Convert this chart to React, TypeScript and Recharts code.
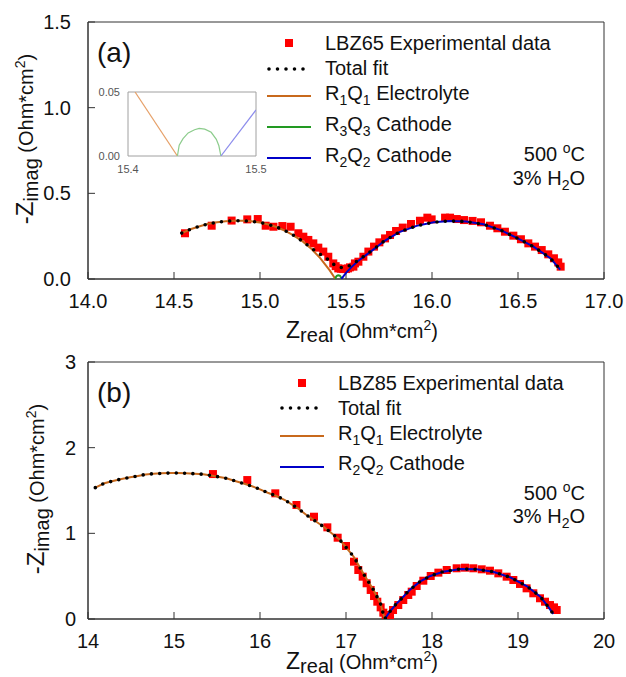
import React from "react";
import { ScatterChart, Scatter, XAxis, YAxis, ReferenceArea } from "recharts";

type Pt = [number, number];
type Part = string | { sub: string } | { sup: string };

const FONT = '"Liberation Sans", Arial, Helvetica, sans-serif';
const RED = "#ff0000";
const ORANGE = "#c8691c";
const GREEN = "#229922";
const BLUE = "#0000c8";
const AXIS = "#333";

// ---------- panel (a): LBZ65 ----------
const lbz65Exp: Pt[] = [
  [14.564, 0.267], [14.719, 0.311], [14.835, 0.341], [14.926, 0.348], [14.987, 0.35],
  [15.033, 0.311], [15.078, 0.305], [15.13, 0.309], [15.178, 0.305], [15.223, 0.267],
  [15.252, 0.247], [15.281, 0.228], [15.31, 0.208], [15.339, 0.183], [15.368, 0.16],
  [15.397, 0.13], [15.426, 0.091], [15.44, 0.075], [15.455, 0.062], [15.47, 0.06],
  [15.484, 0.058], [15.5, 0.058], [15.512, 0.062], [15.523, 0.068], [15.543, 0.072],
  [15.552, 0.091], [15.572, 0.101], [15.601, 0.13], [15.63, 0.16], [15.663, 0.189],
  [15.694, 0.214], [15.727, 0.237], [15.756, 0.257], [15.791, 0.28], [15.83, 0.3],
  [15.878, 0.321], [15.93, 0.34], [15.973, 0.358], [15.998, 0.348], [16.076, 0.358],
  [16.105, 0.358], [16.144, 0.35], [16.186, 0.344], [16.236, 0.339], [16.285, 0.331],
  [16.337, 0.311], [16.38, 0.296], [16.424, 0.276], [16.473, 0.253], [16.517, 0.232],
  [16.56, 0.208], [16.599, 0.189], [16.638, 0.169], [16.676, 0.144], [16.709, 0.121],
  [16.734, 0.097], [16.748, 0.072],
];

const lbz65Fit: Pt[] = [
  [14.545, 0.268], [14.6, 0.292], [14.65, 0.308], [14.7, 0.322], [14.75, 0.331],
  [14.8, 0.337], [14.85, 0.34], [14.9, 0.34], [14.95, 0.337], [15.0, 0.33],
  [15.05, 0.318], [15.1, 0.302], [15.15, 0.28], [15.2, 0.252], [15.25, 0.218],
  [15.3, 0.179], [15.34, 0.15], [15.39, 0.118], [15.42, 0.092], [15.44, 0.077],
  [15.46, 0.068], [15.48, 0.066], [15.5, 0.069], [15.53, 0.082], [15.57, 0.108],
  [15.62, 0.144], [15.67, 0.181], [15.72, 0.22], [15.81, 0.274], [15.91, 0.31],
  [16.01, 0.331], [16.1, 0.339], [16.2, 0.335], [16.3, 0.319], [16.4, 0.285],
  [16.49, 0.241], [16.59, 0.189], [16.69, 0.12], [16.745, 0.055],
];

const lbz65R1Q1: Pt[] = [
  [14.545, 0.268], [14.6, 0.292], [14.65, 0.308], [14.7, 0.322], [14.75, 0.331],
  [14.8, 0.337], [14.85, 0.34], [14.9, 0.34], [14.95, 0.337], [15.0, 0.33],
  [15.05, 0.318], [15.1, 0.302], [15.15, 0.28], [15.2, 0.252], [15.25, 0.218],
  [15.3, 0.175], [15.35, 0.122], [15.4055, 0.05], [15.4386, 0.0],
];

const lbz65R3Q3: Pt[] = [
  [15.4386, 0], [15.44, 0.0085], [15.443, 0.0135], [15.447, 0.018], [15.452, 0.0205],
  [15.4556, 0.0216], [15.46, 0.021], [15.465, 0.0185], [15.469, 0.013], [15.471, 0.008],
  [15.4726, 0],
];

const lbz65R2Q2: Pt[] = [
  [15.4726, 0.0], [15.5, 0.036], [15.53, 0.068], [15.57, 0.105], [15.62, 0.142],
  [15.67, 0.18], [15.72, 0.22], [15.81, 0.274], [15.91, 0.31], [16.01, 0.331],
  [16.1, 0.339], [16.2, 0.335], [16.3, 0.319], [16.4, 0.285], [16.49, 0.241],
  [16.59, 0.189], [16.69, 0.12], [16.745, 0.055],
];

// inset: close-up of the valley, 15.4 - 15.5
const insetR1Q1: Pt[] = [[15.4055, 0.05], [15.4386, 0]];
const insetR2Q2: Pt[] = [[15.4726, 0], [15.5, 0.036]];

// ---------- panel (b): LBZ85 ----------
const lbz85Exp: Pt[] = [
  [15.453, 1.692], [15.852, 1.622], [16.178, 1.467], [16.424, 1.331], [16.628, 1.194],
  [16.783, 1.07], [16.903, 0.949], [17.0, 0.852], [17.093, 0.669], [17.143, 0.572],
  [17.194, 0.494], [17.24, 0.417], [17.287, 0.339], [17.326, 0.268], [17.364, 0.202],
  [17.403, 0.136], [17.434, 0.074], [17.461, 0.027], [17.512, 0.047], [17.547, 0.105],
  [17.608, 0.163], [17.666, 0.222], [17.724, 0.28], [17.764, 0.319], [17.822, 0.385],
  [17.899, 0.447], [17.985, 0.502], [18.074, 0.541], [18.171, 0.572], [18.287, 0.592],
  [18.384, 0.599], [18.48, 0.592], [18.578, 0.58], [18.674, 0.564], [18.771, 0.533],
  [18.868, 0.494], [18.946, 0.455], [19.023, 0.409], [19.1, 0.358], [19.178, 0.3],
  [19.256, 0.242], [19.314, 0.202], [19.372, 0.163], [19.419, 0.136], [19.45, 0.105],
];

const lbz85R1Q1: Pt[] = [
  [14.085, 1.533], [14.19, 1.584], [14.29, 1.611], [14.39, 1.634], [14.49, 1.654],
  [14.58, 1.67], [14.67, 1.688], [14.76, 1.696], [14.85, 1.7], [14.95, 1.704],
  [15.04, 1.704], [15.14, 1.7], [15.24, 1.696], [15.34, 1.689], [15.43, 1.676],
  [15.51, 1.661], [15.61, 1.642], [15.7, 1.614], [15.8, 1.584], [15.9, 1.552],
  [16.0, 1.514], [16.09, 1.474], [16.19, 1.436], [16.29, 1.389], [16.44, 1.292],
  [16.54, 1.214], [16.74, 1.077], [16.93, 0.922], [17.09, 0.727], [17.2, 0.533],
  [17.32, 0.339], [17.4, 0.183], [17.45, 0.0],
];

const lbz85R2Q2: Pt[] = [
  [17.45, 0.0], [17.51, 0.086], [17.57, 0.16], [17.63, 0.222], [17.74, 0.339],
  [17.86, 0.436], [17.98, 0.502], [18.13, 0.552], [18.33, 0.584], [18.52, 0.58],
  [18.71, 0.552], [18.91, 0.486], [19.1, 0.385], [19.26, 0.261], [19.35, 0.144],
  [19.41, 0.06],
];

const lbz85Fit: Pt[] = [...lbz85R1Q1, ...lbz85R2Q2.slice(1)];

// ---------- ticks ----------
const xTicksA = [14, 14.5, 15, 15.5, 16, 16.5, 17];
const yTicksA = [0, 0.5, 1, 1.5];
const xTicksB = [14, 15, 16, 17, 18, 19, 20];
const yTicksB = [0, 1, 2, 3];
const insetXTicks = [15.4, 15.5];
const insetYTicks = [0, 0.05];

// ---------- legend entries ----------
const legendA: { kind: string; color: string; parts: Part[] }[] = [
  { kind: "square", color: RED, parts: ["LBZ65 Experimental data"] },
  { kind: "dots", color: "#000", parts: ["Total fit"] },
  { kind: "line", color: ORANGE, parts: ["R", { sub: "1" }, "Q", { sub: "1" }, " Electrolyte"] },
  { kind: "line", color: GREEN, parts: ["R", { sub: "3" }, "Q", { sub: "3" }, " Cathode"] },
  { kind: "line", color: BLUE, parts: ["R", { sub: "2" }, "Q", { sub: "2" }, " Cathode"] },
];
const legendB: { kind: string; color: string; parts: Part[] }[] = [
  { kind: "square", color: RED, parts: ["LBZ85 Experimental data"] },
  { kind: "dots", color: "#000", parts: ["Total fit"] },
  { kind: "line", color: ORANGE, parts: ["R", { sub: "1" }, "Q", { sub: "1" }, " Electrolyte"] },
  { kind: "line", color: BLUE, parts: ["R", { sub: "2" }, "Q", { sub: "2" }, " Cathode"] },
];
const conditionLines: Part[][] = [
  ["500 ", { sup: "o" }, "C"],
  ["3% H", { sub: "2" }, "O"],
];

const toXY = (pts: Pt[]) => pts.map(([x, y]) => ({ x, y }));
const NoDot = () => <g />;
const tickStyle = { fontSize: 20, fill: "#111", fontFamily: FONT };

function rich(parts: Part[], small = 14) {
  let shift = 0;
  return parts.map((p, i) => {
    if (typeof p === "string") {
      const dy = -shift;
      shift = 0;
      return (
        <tspan key={i} dy={dy}>
          {p}
        </tspan>
      );
    }
    const target = "sub" in p ? 5 : -8;
    const dy = target - shift;
    shift = target;
    return (
      <tspan key={i} fontSize={small} dy={dy}>
        {"sub" in p ? p.sub : p.sup}
      </tspan>
    );
  });
}

function curve(key: string, pts: Pt[], color: string, width = 2) {
  return (
    <Scatter
      key={key}
      data={toXY(pts)}
      fill={color}
      shape={NoDot}
      line={{ stroke: color, strokeWidth: width }}
      isAnimationActive={false}
    />
  );
}

function dotted(key: string, pts: Pt[]) {
  return (
    <Scatter
      key={key}
      data={toXY(pts)}
      fill="#000"
      shape={NoDot}
      line={{
        stroke: "#000",
        strokeWidth: 3.6,
        strokeDasharray: "0 8.3",
        strokeLinecap: "round",
      }}
      isAnimationActive={false}
    />
  );
}

function squares(key: string, pts: Pt[]) {
  return (
    <Scatter
      key={key}
      data={toXY(pts)}
      fill={RED}
      shape="square"
      isAnimationActive={false}
    />
  );
}

type ChartProps = {
  xDomain: [number, number];
  yDomain: [number, number];
  xTicks: number[];
  yTicks: number[];
  fmt: (v: number) => string;
  yTickMargin: number;
  children: React.ReactNode;
};

function NyquistChart({ xDomain, yDomain, xTicks, yTicks, fmt, yTickMargin, children }: ChartProps) {
  return (
    <ScatterChart width={626} height={340} margin={{ top: 22, right: 22, bottom: 31, left: 28 }}>
      <XAxis
        type="number"
        dataKey="x"
        domain={xDomain}
        ticks={xTicks}
        interval={0}
        allowDataOverflow
        tickFormatter={fmt}
        tickSize={-7}
        tickMargin={22}
        height={30}
        stroke={AXIS}
        tick={tickStyle}
      />
      <YAxis
        type="number"
        dataKey="y"
        domain={yDomain}
        ticks={yTicks}
        interval={0}
        allowDataOverflow
        tickFormatter={fmt}
        tickSize={-7}
        tickMargin={yTickMargin}
        width={60}
        stroke={AXIS}
        tick={tickStyle}
      />
      <ReferenceArea
        x1={xDomain[0]}
        x2={xDomain[1]}
        y1={yDomain[0]}
        y2={yDomain[1]}
        fill="none"
        fillOpacity={0}
        stroke={AXIS}
        strokeOpacity={1}
        ifOverflow="visible"
      />
      {children}
    </ScatterChart>
  );
}

type OverlayProps = {
  tag: string;
  legend: { kind: string; color: string; parts: Part[] }[];
  legendDx: number;
  iconY: number[];
  baseY: number[];
  condY: number[];
  yTitleX: number;
  yTitleY: number;
  xTitleY: number;
};

function Overlay({ tag, legend, legendDx, iconY, baseY, condY, yTitleX, yTitleY, xTitleY }: OverlayProps) {
  const x0 = 267 + legendDx;
  const x1 = 311 + legendDx;
  const tx = 325 + legendDx;
  return (
    <svg
      width={626}
      height={340}
      style={{ position: "absolute", left: 0, top: 0, pointerEvents: "none", overflow: "visible" }}
      fontFamily={FONT}
      fill="#111"
    >
      <text x={97} y={62} fontSize={28}>
        {tag}
      </text>

      {legend.map((row, i) => (
        <g key={i}>
          {row.kind === "square" && (
            <rect x={(x0 + x1) / 2 - 4} y={iconY[i] - 4} width={8} height={8} fill={row.color} />
          )}
          {row.kind === "dots" && (
            <line
              x1={x0 + 2}
              x2={x1}
              y1={iconY[i]}
              y2={iconY[i]}
              stroke={row.color}
              strokeWidth={3.6}
              strokeDasharray="0 8.5"
              strokeLinecap="round"
            />
          )}
          {row.kind === "line" && (
            <line x1={x0} x2={x1} y1={iconY[i]} y2={iconY[i]} stroke={row.color} strokeWidth={2} />
          )}
          <text x={tx} y={baseY[i]} fontSize={20}>
            {rich(row.parts)}
          </text>
        </g>
      ))}

      {conditionLines.map((parts, i) => (
        <text key={i} x={585} y={condY[i]} fontSize={20} textAnchor="end">
          {rich(parts)}
        </text>
      ))}

      <text transform={`translate(${yTitleX},${yTitleY}) rotate(-90)`} textAnchor="middle">
        <tspan fontSize={24}>-Z</tspan>
        <tspan fontSize={20} dy={5}>imag</tspan>
        <tspan fontSize={20} dy={-5}> (Ohm*cm</tspan>
        <tspan fontSize={14} dy={-8}>2</tspan>
        <tspan fontSize={20} dy={8}>)</tspan>
      </text>

      <text x={362} y={xTitleY} textAnchor="middle">
        <tspan fontSize={23}>Z</tspan>
        <tspan fontSize={20} dy={4}>real</tspan>
        <tspan fontSize={20} dy={-4}> (Ohm*cm</tspan>
        <tspan fontSize={14} dy={-8}>2</tspan>
        <tspan fontSize={20} dy={8}>)</tspan>
      </text>
    </svg>
  );
}

function Inset() {
  const insetTick = { fontSize: 11, fill: "#555", fontFamily: FONT };
  return (
    <div style={{ position: "absolute", left: 92, top: 86 }}>
      <ScatterChart width={176} height={92} margin={{ top: 6, right: 12, bottom: 0, left: 0 }}>
        <XAxis
          type="number"
          dataKey="x"
          domain={[15.4, 15.5]}
          ticks={insetXTicks}
          interval={0}
          allowDataOverflow
          tickFormatter={(v: number) => v.toFixed(1)}
          tickLine={false}
          axisLine={false}
          tickSize={0}
          tickMargin={9}
          height={22}
          tick={insetTick}
        />
        <YAxis
          type="number"
          dataKey="y"
          domain={[0, 0.05]}
          ticks={insetYTicks}
          interval={0}
          allowDataOverflow
          tickFormatter={(v: number) => v.toFixed(2)}
          tickLine={false}
          axisLine={false}
          tickSize={0}
          tickMargin={8}
          width={36}
          tick={insetTick}
        />
        <ReferenceArea
          x1={15.4}
          x2={15.5}
          y1={0}
          y2={0.05}
          fill="none"
          fillOpacity={0}
          stroke="#a0a0a0"
          strokeOpacity={1}
          ifOverflow="visible"
        />
        {curve("i1", insetR1Q1, "#e6a068", 1.2)}
        {curve("i3", lbz65R3Q3, "#8ccc8c", 1.2)}
        {curve("i2", insetR2Q2, "#8c8cec", 1.2)}
      </ScatterChart>
    </div>
  );
}

export default function App() {
  return (
    <div
      style={{
        position: "absolute",
        left: 0,
        top: 0,
        width: 626,
        height: 677,
        overflow: "hidden",
        background: "#fff",
        fontFamily: FONT,
      }}
    >
      {/* panel (a) */}
      <div style={{ position: "absolute", left: 0, top: 0, width: 626, height: 340 }}>
        <NyquistChart
          xDomain={[14, 17]}
          yDomain={[0, 1.5]}
          xTicks={xTicksA}
          yTicks={yTicksA}
          fmt={(v) => v.toFixed(1)}
          yTickMargin={24}
        >
          {squares("exp", lbz65Exp)}
          {curve("r1", lbz65R1Q1, ORANGE)}
          {curve("r3", lbz65R3Q3, GREEN)}
          {curve("r2", lbz65R2Q2, BLUE)}
          {dotted("fit", lbz65Fit)}
        </NyquistChart>
        <Overlay
          tag="(a)"
          legend={legendA}
          legendDx={0}
          iconY={[43, 69, 96, 127, 158]}
          baseY={[50, 75, 100, 131, 162]}
          condY={[161, 185]}
          yTitleX={33}
          yTitleY={139}
          xTitleY={338}
        />
        <Inset />
      </div>

      {/* panel (b) */}
      <div style={{ position: "absolute", left: 0, top: 340, width: 626, height: 340 }}>
        <NyquistChart
          xDomain={[14, 20]}
          yDomain={[0, 3]}
          xTicks={xTicksB}
          yTicks={yTicksB}
          fmt={(v) => String(v)}
          yTickMargin={19}
        >
          {squares("exp", lbz85Exp)}
          {curve("r1", lbz85R1Q1, ORANGE)}
          {curve("r2", lbz85R2Q2, BLUE)}
          {dotted("fit", lbz85Fit)}
        </NyquistChart>
        <Overlay
          tag="(b)"
          legend={legendB}
          legendDx={13}
          iconY={[43, 68, 96, 127]}
          baseY={[50, 75, 100, 130]}
          condY={[160, 183]}
          yTitleX={44}
          yTitleY={149}
          xTitleY={329}
        />
      </div>
    </div>
  );
}
